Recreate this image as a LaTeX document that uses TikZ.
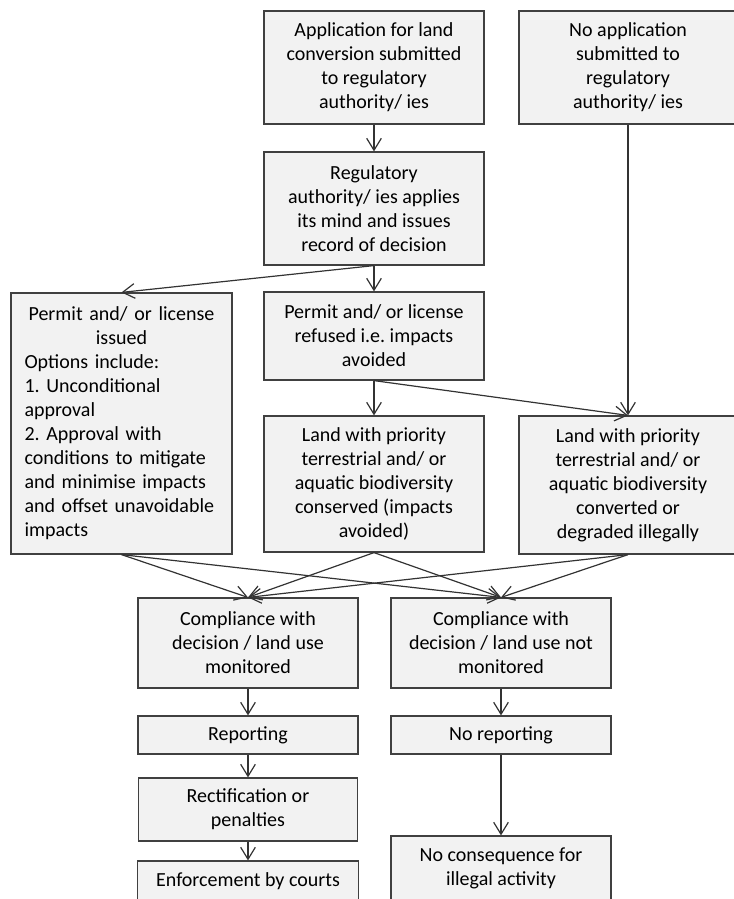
\documentclass[tikz,border=0pt]{standalone}
\usepackage{fontspec}
\setmainfont{Carlito}
\frenchspacing
\usetikzlibrary{arrows.meta}
\tikzset{box/.style = {
  % Rectangle:
  rectangle,
  draw=black!75, fill=black!5,
  line width=0.9pt,
  inner sep=0pt,
  % Text
  align=center,
  font=\fontsize{15}{18}\selectfont
  }}
\tikzset{boxsize/.style 2 args = {
  minimum width=#1*0.75pt,
  minimum height=#2*0.75pt
  }}
\tikzset{arrow/.style = {
  ->,
  >={Straight Barb[length=9pt, width=11pt]},
  line width=0.9pt,
  draw=black!80
  }}

\begin{document}
\begin{tikzpicture}[x=0.75pt, y=-0.75pt]
\useasboundingbox (0,0) rectangle (734,899);

% NODES
\node (app) [box, boxsize={220}{113}] at (374,67.5) {Application for land\\conversion submitted\\to regulatory\\authority/ ies};
\node (noapp) [box, boxsize={218}{113}] at (628,67.5) {No application\\submitted to\\regulatory\\authority/ ies};

\node (reg) [box, boxsize={220}{113}] at (374,208.5) {Regulatory\\authority/ ies applies\\its mind and issues\\record of decision};

\node (issued) [box, boxsize={221}{261}, text width=145.5pt, align=left] at (121.5,423.5) {%
  \centering Permit and/ or license\\issued\par
  \raggedright Options include:\\1. Unconditional\\approval\\2. Approval with\\conditions to mitigate\\and minimise impacts\\and offset unavoidable\\impacts};
\node (refused) [box, boxsize={220}{88}] at (374,336) {Permit and/ or license\\refused i.e. impacts\\avoided};

\node (conserved) [box, boxsize={220}{136}] at (374,484) {Land with priority\\terrestrial and/ or\\aquatic biodiversity\\conserved (impacts\\avoided)};
\node (converted) [box, boxsize={218}{138}] at (628,485) {Land with priority\\terrestrial and/ or\\aquatic biodiversity\\converted or\\degraded illegally};

\node (mon) [box, boxsize={220}{90}] at (248,643) {Compliance with\\decision / land use\\monitored};
\node (notmon) [box, boxsize={220}{90}] at (501,643) {Compliance with\\decision / land use not\\monitored};

\node (rep) [box, boxsize={220}{38}] at (248,735) {Reporting};
\node (norep) [box, boxsize={220}{38}] at (501,735) {No reporting};

\node (rect) [box, boxsize={219}{63}] at (248,809.5) {Rectification or\\penalties};
\node (enf) [box, boxsize={221}{40}] at (248,881) {Enforcement by courts};
\node (nocons) [box, boxsize={220}{65}] at (501,868.5) {No consequence for\\illegal activity};

% arrows
\draw [arrow] (app) -- (reg);
\draw [arrow] (reg.south) -- (issued.north);
\draw [arrow] (reg) -- (refused);
\draw [arrow] (noapp) -- (converted);
\draw [arrow] (refused) -- (conserved);
\draw [arrow] (refused.south) -- (converted.north);

\foreach \from in {issued, conserved, converted}
  \foreach \to in {mon, notmon}
    \draw [arrow] (\from.south) -- (\to.north);

\draw [arrow] (mon) -- (rep);
\draw [arrow] (rep) -- (rect);
\draw [arrow] (rect) -- (enf);

\draw [arrow] (notmon) -- (norep);
\draw [arrow] (norep) -- (nocons);
\end{tikzpicture}
\end{document}
